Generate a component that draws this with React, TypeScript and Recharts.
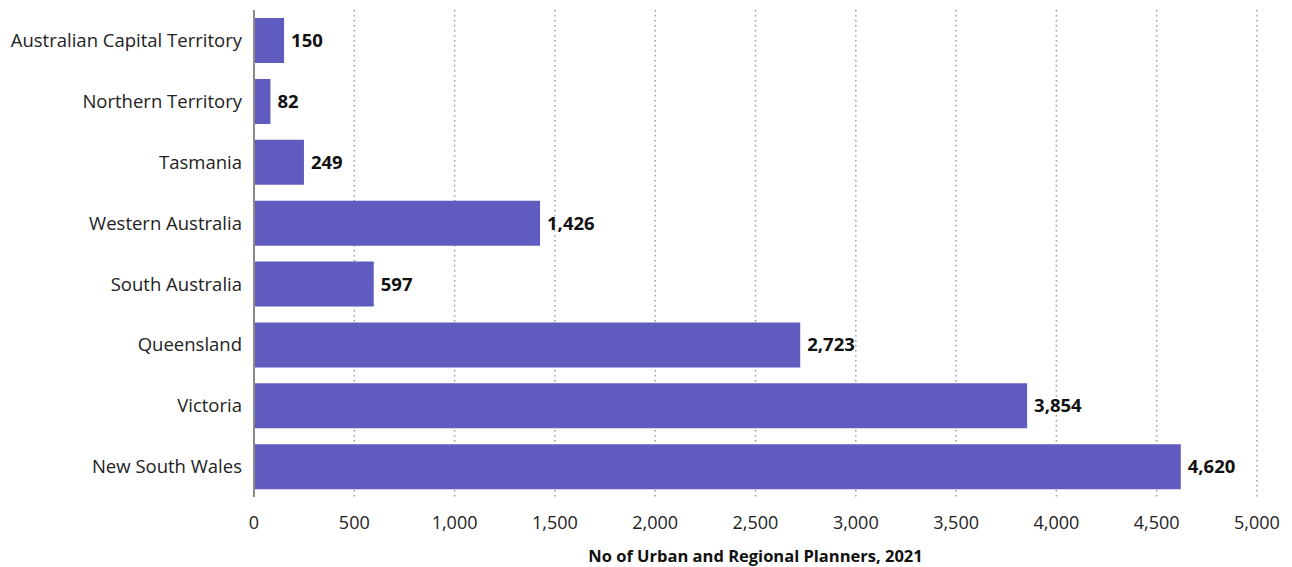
import React from 'react';
import { BarChart, Bar, XAxis, YAxis, CartesianGrid, LabelList } from 'recharts';

const states = [
  'Australian Capital Territory',
  'Northern Territory',
  'Tasmania',
  'Western Australia',
  'South Australia',
  'Queensland',
  'Victoria',
  'New South Wales',
];

const planners = [150, 82, 249, 1426, 597, 2723, 3854, 4620];

const xTicks = [0, 500, 1000, 1500, 2000, 2500, 3000, 3500, 4000, 4500, 5000];

const data = states.map((state, i) => ({ state, planners: planners[i] }));

const fmt = (v: number) => v.toLocaleString('en-US');

export default function App() {
  return (
    <div style={{ fontFamily: '"Open Sans", sans-serif' }}>
      <BarChart
        width={1276}
        height={559}
        data={data}
        layout="vertical"
        margin={{ top: 2, right: 27, bottom: 0, left: 0 }}
      >
        <CartesianGrid
          horizontal={false}
          stroke="#9a9a9a"
          strokeDasharray="1.5 3.5"
          strokeWidth={1.5}
        />
        <XAxis
          type="number"
          domain={[0, 5000]}
          ticks={xTicks}
          tickFormatter={fmt}
          axisLine={false}
          tickLine={false}
          tick={{ fill: '#222', fontSize: 18 }}
          tickMargin={13}
          height={70}
          label={{
            value: 'No of Urban and Regional Planners, 2021',
            position: 'insideBottom',
            offset: 5,
            style: { fill: '#111', fontSize: 16.5, fontWeight: 700 },
          }}
        />
        <YAxis
          type="category"
          dataKey="state"
          width={246}
          axisLine={{ stroke: '#8a8a8a', strokeWidth: 2 }}
          tickLine={false}
          tick={{ fill: '#222', fontSize: 18.5 }}
          tickMargin={6}
        />
        <Bar dataKey="planners" fill="#5f5bbf" barSize={45} isAnimationActive={false}>
          <LabelList
            dataKey="planners"
            position="right"
            offset={7}
            formatter={(v: any) => fmt(Number(v))}
            style={{ fill: '#111', fontSize: 18.5, fontWeight: 700 }}
          />
        </Bar>
      </BarChart>
    </div>
  );
}
